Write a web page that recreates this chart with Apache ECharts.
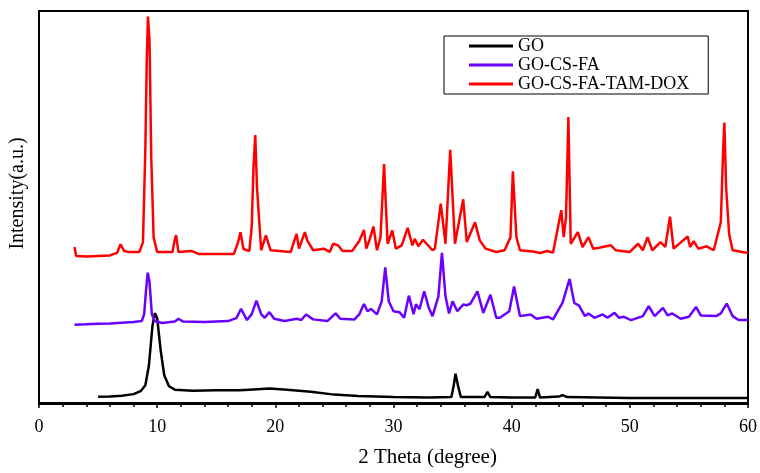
<!DOCTYPE html>
<html>
<head>
<meta charset="utf-8">
<script src="https://cdn.jsdelivr.net/npm/echarts@6/dist/echarts.min.js"></script>
<style>
    html, body { margin: 0; padding: 0; background: #fff; }
    #main { width: 760px; height: 473px; }
</style>
</head>
<body>
<div id="main"></div>
<script>
// 2 Theta (degree) / intensity pairs (a.u., stacked offsets included)
const goData = [
    [5.0, 6.3], [6.0, 6.7], [7.0, 7.3], [8.0, 9], [8.6, 12], [9.0, 18], [9.3, 38], [9.6, 78],
    [9.8, 91], [10.0, 86], [10.3, 53], [10.6, 28], [11.0, 17], [11.5, 13.5], [13.0, 12.5],
    [15.0, 13], [17.0, 13], [18.5, 14], [19.5, 14.7], [21.0, 13.5], [23.0, 11.5], [25.0, 8.5],
    [27.0, 7], [30.0, 6], [33.0, 5.7], [34.9, 6], [35.1, 18], [35.25, 29.7], [35.45, 18],
    [35.7, 6], [37.7, 6], [37.95, 11.3], [38.2, 6], [40.0, 5.5], [42.0, 5.7], [42.2, 14],
    [42.4, 5.5], [44.0, 6.5], [44.3, 8], [44.7, 6], [50.0, 5], [55.0, 5], [60.0, 5]
];

const goCsFaData = [
    [3.0, 79.3], [4.0, 79.7], [5.0, 80.3], [6.0, 80.5], [7.0, 81.3], [8.0, 82], [8.7, 83],
    [8.9, 90], [9.05, 113], [9.2, 132], [9.35, 123], [9.55, 90], [9.8, 83], [10.4, 81],
    [11.5, 82.5], [11.8, 85.3], [12.2, 82.5], [14.0, 82], [16.0, 83], [16.7, 86], [17.1, 95.3],
    [17.6, 84], [18.0, 90], [18.4, 103.7], [18.8, 90], [19.1, 86.3], [19.5, 92], [19.9, 85.3],
    [20.8, 83], [21.8, 85.3], [22.2, 84], [22.6, 89.7], [23.2, 84.7], [24.4, 83], [25.1, 90.7],
    [25.5, 85.3], [26.7, 84.7], [27.1, 89.7], [27.5, 100.3], [27.8, 93], [28.1, 95.3],
    [28.6, 89.7], [29.0, 103], [29.3, 137.3], [29.6, 103], [30.0, 93], [30.5, 92], [30.9, 86.3],
    [31.3, 108.7], [31.7, 90], [31.9, 100], [32.2, 95], [32.6, 113], [33.0, 96], [33.3, 88],
    [33.8, 108], [34.1, 152], [34.4, 108], [34.7, 90.7], [35.0, 103], [35.4, 93], [35.9, 99.7],
    [36.2, 99], [36.5, 100.5], [37.1, 113], [37.6, 91.3], [38.2, 109.7], [38.7, 86.3],
    [39.0, 86.3], [39.8, 93], [40.2, 118], [40.7, 88], [41.6, 89.7], [42.1, 85.3], [43.1, 87.3],
    [43.5, 84.7], [44.3, 101.3], [44.9, 125.7], [45.3, 101.3], [45.7, 98.7], [46.2, 88],
    [46.5, 90.7], [47.0, 86.3], [47.7, 89.7], [48.1, 86.3], [48.7, 91.3], [49.1, 86.3],
    [49.5, 87.3], [50.1, 84], [51.1, 88], [51.6, 98], [52.1, 88], [52.8, 96.3], [53.2, 88.7],
    [53.6, 90.7], [54.3, 85.3], [55.0, 87.3], [55.6, 97.3], [56.0, 88.7], [57.3, 88],
    [57.7, 90.7], [58.2, 100.7], [58.7, 88], [59.2, 84], [60.0, 84]
];

const goCsFaTamDoxData = [
    [3.0, 158], [3.15, 149], [4.0, 148.5], [5.0, 149], [6.0, 149.5], [6.6, 152], [6.9, 160.7],
    [7.2, 154], [7.6, 153], [8.5, 153], [8.8, 163], [9.0, 258], [9.12, 348], [9.22, 391.3],
    [9.35, 368], [9.5, 248], [9.7, 168], [10.0, 153], [11.3, 153], [11.45, 163], [11.6, 170],
    [11.8, 153], [12.9, 154], [13.5, 151], [16.5, 151], [16.85, 163], [17.05, 173], [17.3, 156],
    [17.8, 154], [18.0, 178], [18.15, 238], [18.3, 271.3], [18.45, 218], [18.8, 154.7],
    [19.2, 169.7], [19.6, 154.7], [21.3, 153], [21.8, 171.3], [22.0, 156.3], [22.5, 173],
    [22.7, 164.7], [23.2, 154.7], [24.1, 156.3], [24.6, 153], [24.9, 161.3], [25.3, 159.7],
    [25.7, 154], [26.5, 154], [27.1, 164], [27.5, 175.3], [27.7, 156.3], [28.0, 166.3],
    [28.3, 178.7], [28.6, 154.7], [28.9, 168], [29.2, 242], [29.5, 161.3], [29.9, 174.7],
    [30.2, 156.3], [30.7, 159.7], [31.2, 177.3], [31.6, 159.7], [31.8, 166.3], [32.1, 158.7],
    [32.5, 165.3], [32.8, 161.3], [33.3, 154.7], [33.5, 156.3], [34.0, 202], [34.4, 161.3],
    [34.8, 256.3], [35.2, 161.3], [35.9, 206.3], [36.2, 163], [36.9, 183], [37.3, 164.7],
    [37.8, 156.3], [38.7, 153], [39.4, 154.7], [39.9, 168], [40.1, 234.7], [40.4, 168],
    [40.7, 154.7], [41.8, 153.5], [42.4, 152], [43.0, 154], [43.5, 152.5], [44.2, 195.3],
    [44.4, 168], [44.6, 188], [44.8, 289.7], [45.0, 161.3], [45.6, 173], [46.0, 158],
    [46.5, 168], [46.9, 156.3], [47.4, 157.3], [48.4, 159.7], [48.8, 154.7], [50.0, 153],
    [50.7, 161.3], [51.1, 154.7], [51.5, 168], [51.9, 154.7], [52.6, 163], [53.0, 158],
    [53.4, 188.7], [53.7, 156.3], [54.9, 168.7], [55.1, 158], [55.4, 164], [55.8, 156.3],
    [56.5, 158.7], [57.1, 154.7], [57.7, 183], [57.9, 258], [58.0, 284], [58.15, 218],
    [58.4, 171.3], [58.7, 154.7], [60.0, 152]
];

const seriesNames = ['GO', 'GO-CS-FA', 'GO-CS-FA-TAM-DOX'];
const seriesColors = ['#000000', '#6a00ff', '#ff0000'];
const xTicks = [0, 10, 20, 30, 40, 50, 60];

const font = 'Liberation Serif, Times New Roman, serif';
const chart = echarts.init(document.getElementById('main'));

const lineSeries = (name, data, color) => ({
    name: name,
    type: 'line',
    data: data,
    symbol: 'none',
    smooth: false,
    lineStyle: { color: color, width: 2.5 },
    itemStyle: { color: color },
    animation: false,
});

chart.setOption({
    backgroundColor: '#fff',
    grid: {
        left: 36,
        right: 11,
        top: 11,
        bottom: 64,
        show: true,
        borderColor: '#000',
        borderWidth: 2,
    },
    legend: {
        data: seriesNames,
        orient: 'vertical',
        left: 444,
        top: 36,
        icon: 'rect',
        itemWidth: 44,
        itemHeight: 3,
        itemGap: 1,
        padding: [1, 19, 1, 25],
        borderColor: '#000',
        borderWidth: 1,
        textStyle: { fontFamily: font, fontSize: 18, color: '#000' },
    },
    xAxis: {
        type: 'value',
        min: xTicks[0],
        max: xTicks[xTicks.length - 1],
        interval: 10,
        name: '2 Theta (degree)',
        nameLocation: 'middle',
        nameGap: 43,
        nameTextStyle: { fontFamily: font, fontSize: 21, color: '#000', padding: [0, 0, 0, 68] },
        axisLine: { lineStyle: { color: '#000', width: 2 } },
        axisTick: { show: true, inside: false, length: 5, lineStyle: { color: '#000', width: 1.5 } },
        minorTick: { show: true, splitNumber: 5, length: 4, lineStyle: { color: '#000', width: 1.5 } },
        axisLabel: { fontFamily: font, fontSize: 18, color: '#000', margin: 14 },
        splitLine: { show: false },
    },
    yAxis: {
        type: 'value',
        min: -1,
        max: 397,
        name: 'Intensity(a.u.)',
        nameLocation: 'middle',
        nameGap: 11,
        nameTextStyle: { fontFamily: font, fontSize: 20, color: '#000', padding: [0, 0, 0, 28] },
        axisLine: { show: true, lineStyle: { color: '#000', width: 2 } },
        axisTick: { show: false },
        axisLabel: { show: false },
        splitLine: { show: false },
    },
    series: [
        lineSeries(seriesNames[0], goData, seriesColors[0]),
        lineSeries(seriesNames[1], goCsFaData, seriesColors[1]),
        lineSeries(seriesNames[2], goCsFaTamDoxData, seriesColors[2]),
    ],
});
</script>
</body>
</html>
